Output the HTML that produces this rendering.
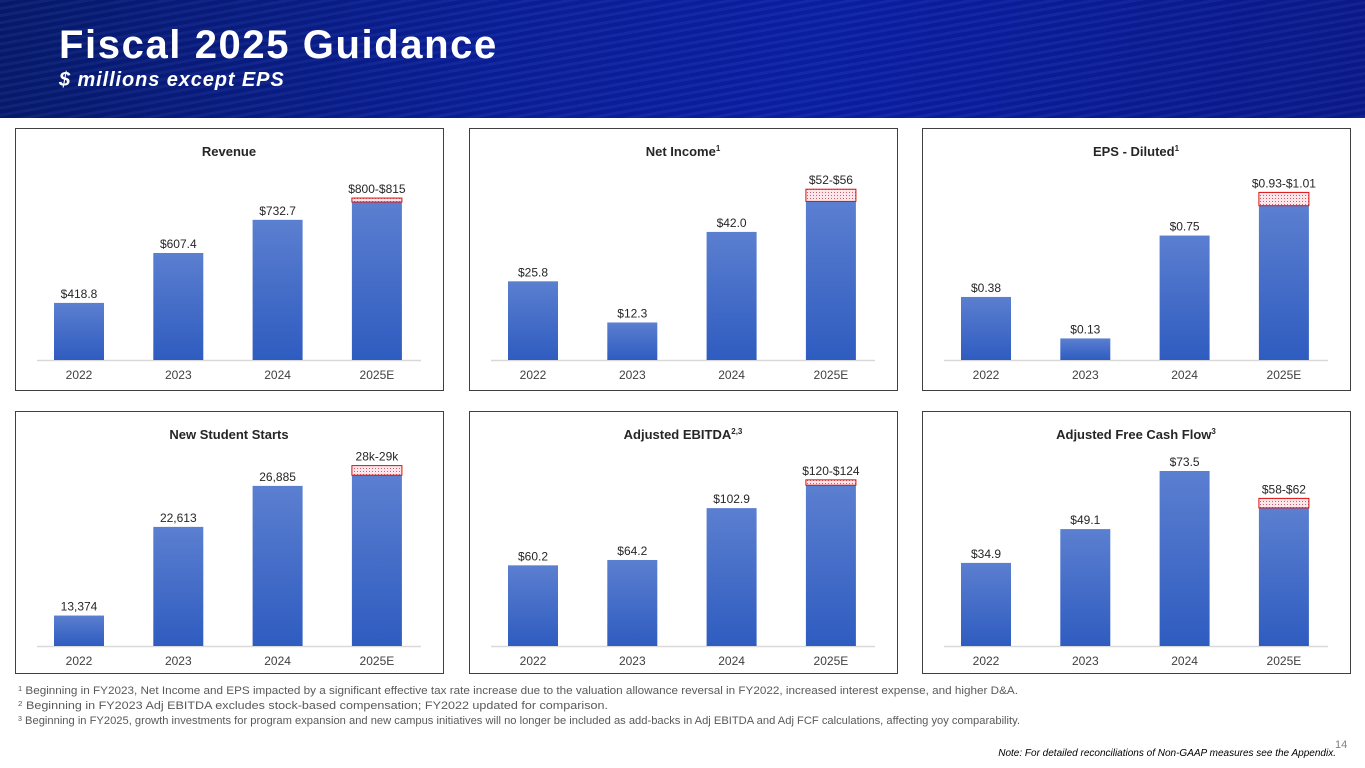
<!DOCTYPE html>
<html><head><meta charset="utf-8">
<style>
html,body{margin:0;padding:0;width:1365px;height:768px;overflow:hidden;background:#fff;font-family:"Liberation Sans",Arial,sans-serif}
#header{position:absolute;left:0;top:0;width:1365px;height:118px;background:linear-gradient(100deg,#061a6e 0%,#0a1f9a 35%,#0b1fa8 60%,#0a1a8c 100%)}
#header::after{content:"";position:absolute;inset:0;background:repeating-linear-gradient(170deg,rgba(255,255,255,0.04) 0 3px,rgba(0,0,0,0.05) 3px 7px)}
#title{position:absolute;left:59px;top:23px;color:#fff;font-weight:bold;font-size:40px;letter-spacing:1.6px;z-index:2}
#subtitle{position:absolute;left:59px;top:69px;color:#fff;font-weight:bold;font-style:italic;font-size:20px;letter-spacing:0.9px;z-index:2}
svg{position:absolute;left:0;top:0}
</style></head>
<body>
<div id="header"></div>
<div id="title">Fiscal 2025 Guidance</div>
<div id="subtitle">$ millions except EPS</div>
<svg id="chartsvg" width="1365" height="768">
<defs>
<linearGradient id="barGrad" x1="0" y1="0" x2="0" y2="1">
<stop offset="0" stop-color="#5b7fd0"/><stop offset="1" stop-color="#2f5cc0"/>
</linearGradient>
<pattern id="dots" width="3" height="3" patternUnits="userSpaceOnUse">
<rect width="3" height="3" fill="#fbe6ea"/><rect width="1" height="1" fill="#d25a6e"/>
</pattern>
</defs>
<g id="charts"></g>
<g font-size="11" fill="#595959">
<text x="18" y="694" textLength="1000" lengthAdjust="spacingAndGlyphs"><tspan font-size="7" dy="-3">1</tspan><tspan dy="3"> Beginning in FY2023, Net Income and EPS impacted by a significant effective tax rate increase due to the valuation allowance reversal in FY2022, increased interest expense, and higher D&amp;A.</tspan></text>
<text x="18" y="709" textLength="590" lengthAdjust="spacingAndGlyphs"><tspan font-size="7" dy="-3">2</tspan><tspan dy="3"> Beginning in FY2023 Adj EBITDA excludes stock-based compensation; FY2022 updated for comparison.</tspan></text>
<text x="18" y="724" textLength="1002" lengthAdjust="spacingAndGlyphs"><tspan font-size="7" dy="-3">3</tspan><tspan dy="3"> Beginning in FY2025, growth investments for program expansion and new campus initiatives will no longer be included as add-backs in Adj EBITDA and Adj FCF calculations, affecting yoy comparability.</tspan></text>
</g>
<text x="1335" y="748" font-size="11" fill="#808080">14</text>
<text x="1336" y="756" font-size="10" font-style="italic" fill="#000" text-anchor="end">Note: For detailed reconciliations of Non-GAAP measures see the Appendix.</text>
</svg>
<script>
const categories = ["2022","2023","2024","2025E"];
const titles = ["Revenue","Net Income","EPS - Diluted","New Student Starts","Adjusted EBITDA","Adjusted Free Cash Flow"];
const titleSups = ["","1","1","","2,3","3"];
const revenueVals = [418.8,607.4,732.7];
const netIncomeVals = [25.8,12.3,42.0];
const epsVals = [0.38,0.13,0.75];
const startsVals = [13374,22613,26885];
const ebitdaVals = [60.2,64.2,102.9];
const fcfVals = [34.9,49.1,73.5];
const guideLow = [800,52,0.93,28000,120,58];
const guideHigh = [815,56,1.01,29000,124,62];
const valueLabels = [
 ["$418.8","$607.4","$732.7","$800-$815"],
 ["$25.8","$12.3","$42.0","$52-$56"],
 ["$0.38","$0.13","$0.75","$0.93-$1.01"],
 ["13,374","22,613","26,885","28k-29k"],
 ["$60.2","$64.2","$102.9","$120-$124"],
 ["$34.9","$49.1","$73.5","$58-$62"]];
const yMins = [203,0,0,10200,0,0];
const yMaxs = [921,62.3,1.145,30000,141.8,79.8];
const seriesAll = [revenueVals,netIncomeVals,epsVals,startsVals,ebitdaVals,fcfVals];

const NS="http://www.w3.org/2000/svg";
const root=document.getElementById('charts');
function mk(tag,attrs,parent){const e=document.createElementNS(NS,tag);for(const k in attrs)e.setAttribute(k,attrs[k]);parent.appendChild(e);return e;}
const panelX=[15,469,922], panelY=[128,411], PW=428, PH=262, plotH=190;
const baseOff=[232,235];
for(let i=0;i<6;i++){
 const row=Math.floor(i/3);
 const px=panelX[i%3], py=panelY[row];
 const g=mk('g',{},root);
 
 
 const fr=mk('rect',{x:px+0.5,y:py+0.5,width:PW,height:PH,fill:'#fff',stroke:'#404040','stroke-width':1},g);
 
 
 const t=mk('text',{x:px+PW/2,y:py+28,'text-anchor':'middle','font-size':13,'font-weight':'bold',fill:'#262626'},g);
 
 
 t.textContent=titles[i];
 if(titleSups[i]){const s=mk('tspan',{'font-size':8,dy:-5},t);s.textContent=titleSups[i];}
 const base=py+baseOff[row];
 const y=v=>base-(v-yMins[i])/(yMaxs[i]-yMins[i])*plotH;
 const x=j=>px+64+j*99.3;
 const ax=mk('line',{x1:px+22,x2:px+406,y1:base+0.5,y2:base+0.5,stroke:'#d9d9d9','stroke-width':1.5},g);
 
 
 const vals=seriesAll[i].concat([guideLow[i]]);
 for(let j=0;j<4;j++){
  const top=y(vals[j]);
  const b=mk('rect',{x:x(j)-25,y:top,width:50,height:base-top,fill:'url(#barGrad)'},g);
  
  
  let lblTop=top;
  if(j===3){
   const ht=y(guideHigh[i]);
   const r=mk('rect',{x:x(j)-25,y:ht,width:50,height:Math.max(top-ht,2),fill:'url(#dots)',stroke:'#d11',"stroke-width":1},g);
   
   
   lblTop=ht;
  }
  const l=mk('text',{x:x(j),y:lblTop-5,'text-anchor':'middle','font-size':12,fill:'#262626'},g);
  
  
  l.textContent=valueLabels[i][j];
  const c=mk('text',{x:x(j),y:base+19,'text-anchor':'middle','font-size':12,fill:'#404040'},g);
  
  
  c.textContent=categories[j];
 }
}
</script>
</body></html>
